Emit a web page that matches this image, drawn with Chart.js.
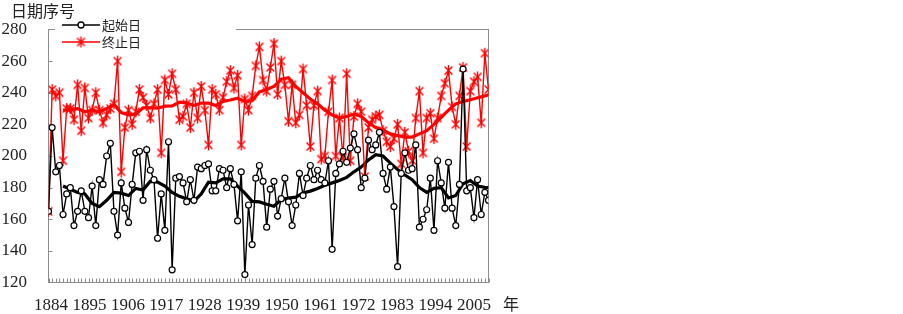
<!DOCTYPE html>
<html lang="zh">
<head>
<meta charset="UTF-8">
<title>起始日 / 终止日</title>
<script src="https://cdn.jsdelivr.net/npm/chart.js@4.4.1/dist/chart.umd.min.js"></script>
<style>
  html, body { margin: 0; padding: 0; background: #fff; }
  #wrap { width: 903px; height: 314px; }
</style>
</head>
<body>
<div id="wrap"><canvas id="chart" width="903" height="314"></canvas></div>
<script>
// years 1884..2005
const years = Array.from({ length: 122 }, (_, i) => 1884 + i);
const xLabels = [1884, 1895, 1906, 1917, 1928, 1939, 1950, 1961, 1972, 1983, 1994, 2005];

// 起始日 (start day)
const startDays = [
  165, 218, 190, 194, 163, 176, 180, 156, 165, 178,
  165, 161, 181, 156, 185, 182, 200, 208, 165, 150,
  183, 167, 158, 182, 202, 203, 172, 204, 191, 185,
  148, 176, 153, 209, 128, 186, 187, 183, 171, 185,
  172, 193, 192, 194, 195, 178, 178, 192, 191, 180,
  192, 182, 159, 190, 125, 169, 144, 186, 194, 184,
  155, 179, 184, 162, 173, 186, 171, 156, 169, 189,
  175, 186, 194, 185, 191, 185, 183, 197, 141, 189,
  195, 203, 196, 205, 214, 204, 180, 186, 210, 204,
  207, 215, 189, 179, 193, 168, 130, 189, 202, 191,
  192, 207, 155, 160, 166, 186, 153, 197, 183, 167,
  196, 167, 156, 182, 255, 178, 180, 161, 185, 163,
  177, 172
];

// 终止日 (end day)
const endDays = [
  165, 242, 238, 240, 197, 230, 230, 223, 245, 216,
  243, 224, 229, 240, 229, 221, 226, 230, 233, 260,
  190, 218, 229, 220, 228, 242, 237, 232, 224, 233,
  242, 202, 248, 239, 252, 242, 223, 225, 233, 218,
  240, 224, 244, 229, 207, 242, 239, 229, 237, 247,
  254, 243, 251, 207, 236, 229, 238, 257, 269, 248,
  241, 256, 271, 239, 260, 245, 222, 245, 221, 226,
  255, 232, 206, 232, 241, 198, 200, 228, 248, 200,
  224, 199, 252, 197, 225, 233, 228, 187, 218, 223,
  225, 226, 216, 209, 206, 211, 220, 195, 215, 203,
  197, 224, 241, 202, 224, 227, 211, 224, 238, 246,
  254, 231, 220, 238, 256, 206, 241, 247, 250, 221,
  265, 242
];

// smoothed curves
const smoothYears = [
  1888, 1890, 1892, 1894, 1896, 1898, 1900, 1902, 1904, 1906,
  1908, 1910, 1912, 1914, 1916, 1918, 1920, 1922, 1924, 1926,
  1928, 1930, 1932, 1934, 1936, 1938, 1940, 1942, 1944, 1946,
  1948, 1950, 1952, 1954, 1956, 1958, 1960, 1962, 1964, 1966,
  1968, 1970, 1972, 1974, 1976, 1978, 1980, 1982, 1984, 1986,
  1988, 1990, 1992, 1994, 1996, 1998, 2000, 2002, 2004, 2005
];
const startSmooth = [
  181, 179, 177, 176, 170, 168, 172, 177, 176.5, 175,
  179.5, 178.5, 184, 183.5, 181, 177, 174.5, 173, 171.5, 176,
  183.5, 183, 185.5, 185.5, 181, 176.5, 171.3, 171, 169.5, 168.2,
  172.5, 173.4, 174, 176.6, 177.8, 179.5, 181.5, 183, 184.5, 186.5,
  190, 193, 197.5, 200.8, 200, 195.5, 191.5, 188, 185, 180,
  177, 179.5, 180, 173.5, 175, 182.5, 184.5, 181, 180.2, 180
];
const endSmooth = [
  229, 229.5, 230, 228, 229, 228, 230, 232.5, 227.5, 226,
  226.5, 230.5, 230.5, 230.2, 231.5, 231.6, 234, 233.5, 232, 233.5,
  233.5, 232, 234.5, 235.4, 236.5, 234.5, 235, 240.5, 242, 244,
  248.5, 249.5, 244, 240, 236, 233, 229, 226, 224, 225,
  226.5, 225, 221, 218, 216.5, 214, 213, 212, 212, 214,
  216, 220, 224.5, 229, 233, 234.5, 235.6, 236.8, 238, 238.7
];

const serif = "'Liberation Serif', 'DejaVu Serif', serif";
const cjk = "'Noto Sans CJK SC', 'Noto Sans', sans-serif";
const axisGray = '#8c8c8c';

function makeStar(color, size, lw) {
  const c = document.createElement('canvas');
  c.width = size; c.height = size;
  const g = c.getContext('2d');
  const m = size / 2, r = size / 2 - 1;
  const d = r * Math.SQRT1_2;
  g.strokeStyle = color;
  g.lineWidth = lw;
  g.beginPath();
  g.moveTo(m, m - r); g.lineTo(m, m + r);
  g.moveTo(m - d, m - d); g.lineTo(m + d, m + d);
  g.moveTo(m - d, m + d); g.lineTo(m + d, m - d);
  g.stroke();
  return c;
}
const redStar = makeStar('#ff0000', 13, 1.4);

function pts(xs, ys) {
  return xs.map((x, i) => ({ x: x, y: ys[i] }));
}

// frame + inner tick marks
const framePlugin = {
  id: 'frame',
  beforeDatasetsDraw(chart) {
    const { ctx, chartArea: a, scales } = chart;
    ctx.save();
    ctx.strokeStyle = axisGray;
    ctx.lineWidth = 1;
    ctx.strokeRect(a.left, a.top, a.right - a.left, a.bottom - a.top);
    ctx.beginPath();
    years.forEach(y => {
      const px = Math.round(scales.x.getPixelForValue(y)) + 0.5;
      ctx.moveTo(px, a.bottom); ctx.lineTo(px, a.bottom - 4);
    });
    for (let v = 140; v < 280; v += 20) {
      const py = Math.round(scales.y.getPixelForValue(v)) + 0.5;
      ctx.moveTo(a.left, py); ctx.lineTo(a.left + 4, py);
    }
    ctx.stroke();
    ctx.restore();
  }
};

// legend box, axis titles
const textPlugin = {
  id: 'texts',
  afterDraw(chart) {
    const { ctx } = chart;
    ctx.save();
    ctx.fillStyle = '#fff';
    ctx.fillRect(55, 0, 181, 48);

    ctx.fillStyle = '#222';
    ctx.font = '16px ' + cjk;
    ctx.textBaseline = 'middle';
    ctx.textAlign = 'left';
    ctx.fillText('日期序号', 11, 11);
    ctx.fillText('年', 503, 304);

    // legend entries
    ctx.lineWidth = 1.6;
    ctx.strokeStyle = '#000';
    ctx.beginPath(); ctx.moveTo(62, 25); ctx.lineTo(100, 25); ctx.stroke();
    ctx.fillStyle = '#fff';
    ctx.lineWidth = 1.3;
    ctx.beginPath(); ctx.arc(81, 25, 3, 0, Math.PI * 2); ctx.fill(); ctx.stroke();

    ctx.strokeStyle = '#ff0000';
    ctx.lineWidth = 1.6;
    ctx.beginPath(); ctx.moveTo(62, 42); ctx.lineTo(100, 42); ctx.stroke();
    ctx.drawImage(makeStar('#ff0000', 13, 1.4), 81 - 6.5, 42 - 6.5);

    ctx.fillStyle = '#222';
    ctx.font = '13px ' + cjk;
    ctx.fillText('起始日', 102, 25);
    ctx.fillText('终止日', 102, 42);
    ctx.restore();
  }
};

new Chart(document.getElementById('chart'), {
  type: 'line',
  data: {
    datasets: [
      {
        label: '起始日',
        data: pts(years, startDays),
        borderColor: '#000',
        borderWidth: 1.4,
        pointStyle: 'circle',
        pointRadius: 3,
        pointBorderWidth: 1.2,
        pointBackgroundColor: '#fff',
        pointBorderColor: '#000',
        tension: 0
      },
      {
        label: '终止日',
        data: pts(years, endDays),
        borderColor: '#ff0000',
        borderWidth: 1.4,
        pointStyle: redStar,
        pointRadius: 6,
        tension: 0
      },
      {
        label: '起始日平滑',
        data: pts(smoothYears, startSmooth),
        borderColor: '#000',
        borderWidth: 3.2,
        pointRadius: 0,
        tension: 0
      },
      {
        label: '终止日平滑',
        data: pts(smoothYears, endSmooth),
        borderColor: '#ff0000',
        borderWidth: 3.2,
        pointRadius: 0,
        tension: 0
      }
    ]
  },
  options: {
    responsive: false,
    animation: false,
    events: [],
    layout: { padding: { top: 29.5, right: 414.5, left: 0, bottom: 0 } },
    plugins: { legend: { display: false }, tooltip: { enabled: false } },
    scales: {
      x: {
        type: 'linear',
        min: 1884,
        max: 2005,
        grid: { display: false },
        border: { display: false },
        ticks: { display: false },
        afterFit: s => { s.height = 0; }
      },
      // label axis: the year labels sit a little tighter than the data ticks
      xl: {
        type: 'linear',
        position: 'bottom',
        min: 1883.285,
        max: 2009.155,
        grid: { display: false },
        border: { display: false },
        afterBuildTicks: s => { s.ticks = xLabels.map(v => ({ value: v })); },
        afterFit: s => { s.height = 31.5; },
        ticks: {
          autoSkip: false,
          maxRotation: 0,
          padding: 5,
          color: '#222',
          font: { family: serif, size: 17 },
          callback: v => String(v)
        }
      },
      y: {
        min: 120,
        max: 280,
        grid: { display: false },
        border: { display: false },
        afterFit: s => { s.width = 48.5; },
        ticks: {
          stepSize: 20,
          padding: 13.5,
          color: '#222',
          font: { family: serif, size: 17 }
        }
      }
    }
  },
  plugins: [framePlugin, textPlugin]
});
</script>
</body>
</html>
